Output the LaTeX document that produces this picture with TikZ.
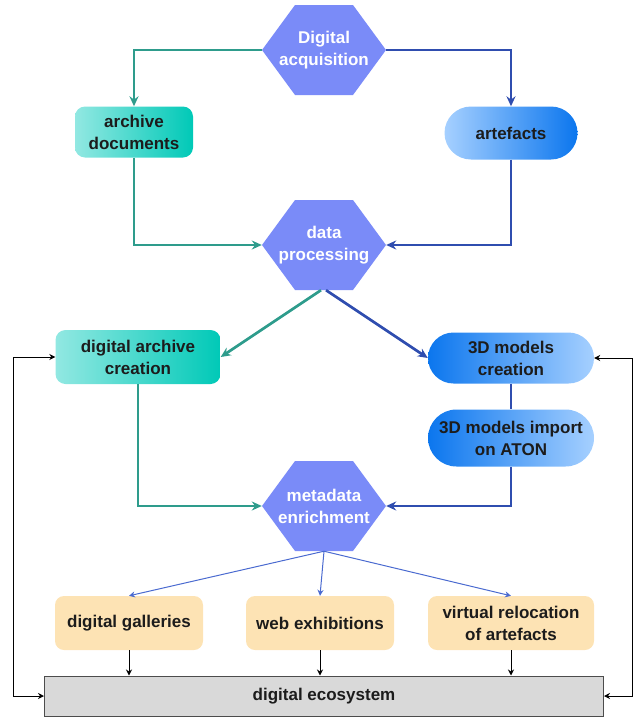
\documentclass[tikz,border=0pt]{standalone}
\usepackage{fontspec}
\setmainfont{Liberation Sans}
\usetikzlibrary{shapes.misc,arrows.meta}
\definecolor{hexblue}{RGB}{122,139,248}
\definecolor{tealln}{RGB}{46,156,140}
\definecolor{bluln}{RGB}{47,77,175}
\definecolor{thinbl}{RGB}{74,106,208}
\definecolor{tealA}{RGB}{146,232,226}
\definecolor{tealB}{RGB}{0,201,183}
\definecolor{bluA}{RGB}{166,208,255}
\definecolor{bluB}{RGB}{11,118,238}
\definecolor{orangefill}{RGB}{253,227,180}
\definecolor{ecogray}{RGB}{217,217,217}
\definecolor{txtdark}{RGB}{28,28,28}
\begin{document}
\begin{tikzpicture}[x=1pt,y=1pt,>={Stealth[length=10pt,width=9pt]},
  every node/.style={font=\fontsize{17}{22}\selectfont\bfseries,align=center,text=txtdark},
  hexa/.style={minimum width=124pt,minimum height=90pt,inner sep=0pt,text=white,
    path picture={\fill[hexblue] ([xshift=33pt]path picture bounding box.north west)
      -- ([xshift=-33pt]path picture bounding box.north east) -- (path picture bounding box.east)
      -- ([xshift=-33pt]path picture bounding box.south east) -- ([xshift=33pt]path picture bounding box.south west)
      -- (path picture bounding box.west) -- cycle;}},
  tealbox/.style={rounded corners=10pt,left color=tealA,right color=tealB,inner sep=0pt},
  pillA/.style={rounded rectangle,left color=bluA,right color=bluB,inner sep=0pt},
  pillB/.style={rounded rectangle,left color=bluB,right color=bluA,inner sep=0pt},
  outbox/.style={rounded corners=9pt,fill=orangefill,minimum height=54pt,inner sep=0pt},
  tealflow/.style={draw=tealln,line width=2.7pt},
  blueflow/.style={draw=bluln,line width=2.7pt},
  thinblue/.style={draw=thinbl,line width=1pt,>={Stealth[length=6pt,width=6pt]}},
  thinblack/.style={draw=black,line width=1pt,>={Stealth[length=6pt,width=6pt]}}]
\useasboundingbox (0,0) rectangle (636,-718);

% upper part
\node[hexa] (da) at (324,-50) {Digital\\acquisition};
\node[tealbox,minimum width=118pt,minimum height=51pt] (ad) at (134,-132) {archive\\documents};
\node[pillA,minimum width=133pt,minimum height=53pt] (art) at (511,-133) {artefacts};
\node[hexa] (dp) at (324,-245) {data\\processing};

% middle part
\node[tealbox,minimum width=165pt,minimum height=54pt] (dac) at (138,-357) {digital archive\\creation};
\node[pillB,minimum width=166pt,minimum height=51pt] (mc) at (511,-358) {3D models\\creation};
\node[pillB,minimum width=166pt,minimum height=57pt] (mi) at (511,-438) {3D models import\\on ATON};
\node[hexa] (me) at (324,-506) {metadata\\enrichment};

% lower part
\node[outbox,minimum width=148pt] (dg) at (129,-623) {digital galleries};
\node[outbox,minimum width=148pt] (we) at (320,-623) {web exhibitions};
\node[outbox,minimum width=166pt] (vr) at (511,-623) {virtual relocation\\of artefacts};
\node[draw=black!70,line width=1pt,fill=ecogray,minimum width=559pt,minimum height=40pt] (eco) at (324,-696) {digital ecosystem};

\draw[tealflow,->] (da.west) -| (ad.north);
\draw[blueflow,->] (da.east) -| (art.north);
\draw[tealflow,->] (ad.south) |- (dp.west);
\draw[blueflow,->] (art.south) |- (dp.east);
\draw[tealflow,->] ([xshift=-3pt]dp.south) -- (dac.east);
\draw[blueflow,->] ([xshift=2pt]dp.south) -- (mc.west);
\draw[blueflow] (mc.south) -- (mi.north);
\draw[tealflow,->] (dac.south) |- (me.west);
\draw[blueflow,->] (mi.south) |- (me.east);
\foreach \n in {dg,we,vr}{
  \draw[thinblue,->] (me.south) -- (\n.north);
  \draw[thinblack,->] (\n.south) -- (\n.south |- eco.north);
}
\draw[thinblack,<->] (dac.west) -| ([xshift=-31pt]eco.west) -- (eco.west);
\draw[thinblack,<->] (mc.east) -| ([xshift=28pt]eco.east) -- (eco.east);
\end{tikzpicture}
\end{document}
